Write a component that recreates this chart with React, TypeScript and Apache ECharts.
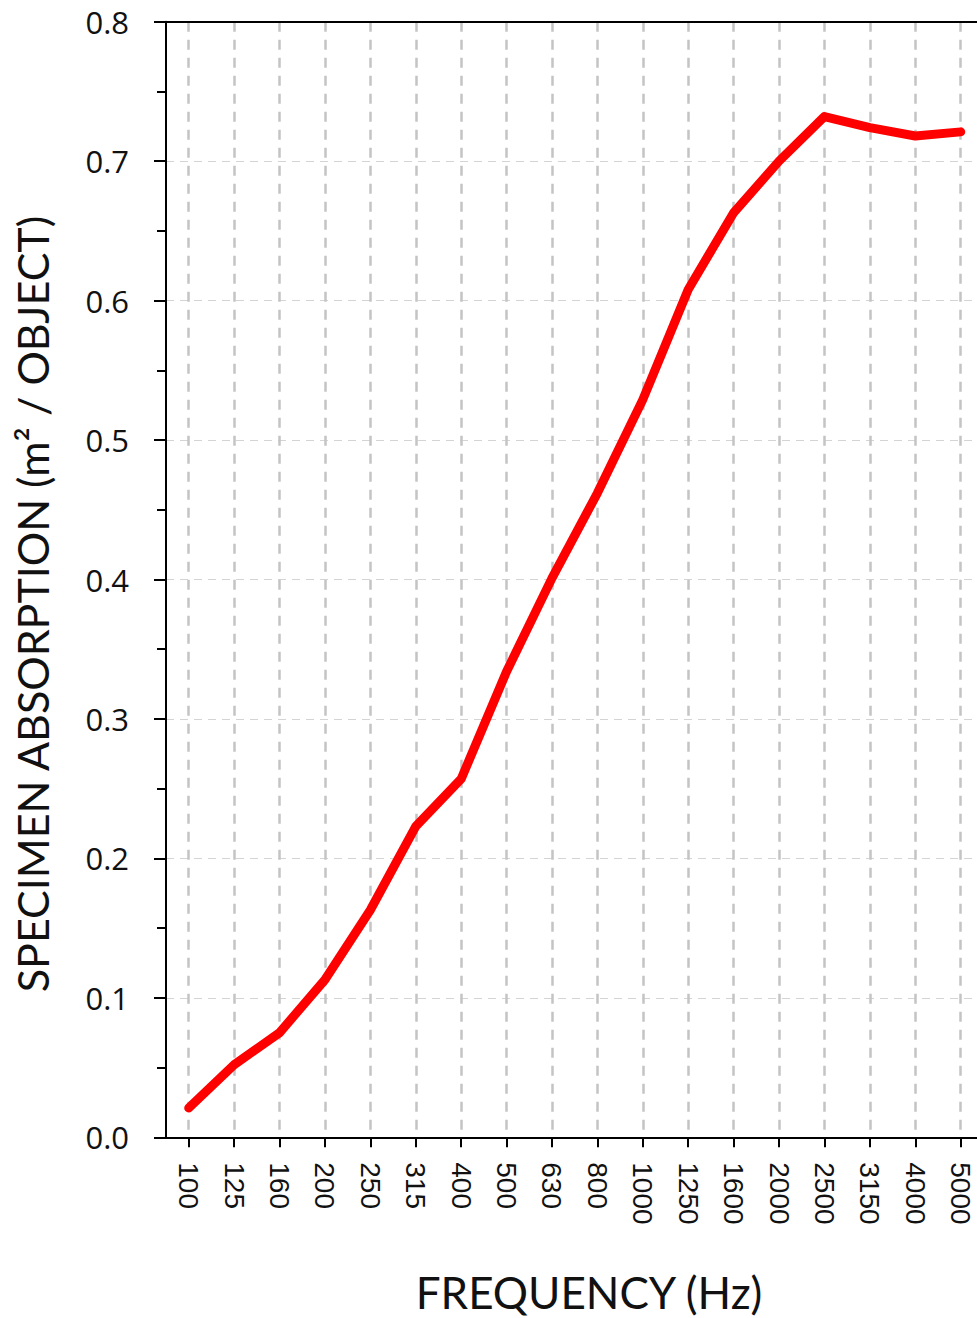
import React, { useEffect, useRef } from "react";
import * as echarts from "echarts";

const frequencies = [
  "100", "125", "160", "200", "250", "315", "400", "500", "630",
  "800", "1000", "1250", "1600", "2000", "2500", "3150", "4000", "5000",
];
const absorption = [
  0.021, 0.052, 0.075, 0.113, 0.163, 0.223, 0.257, 0.334, 0.401,
  0.462, 0.529, 0.608, 0.663, 0.7, 0.732, 0.724, 0.718, 0.721,
];
const yTitle = "SPECIMEN ABSORPTION (m² / OBJECT)";
const xTitle = "FREQUENCY (Hz)";

const CHART_W = 1000;

export default function App() {
  const ref = useRef<HTMLDivElement>(null);
  useEffect(() => {
    if (!ref.current) return;
    const chart = echarts.init(ref.current, null, { renderer: "svg" });
    const labelFont = "'Open Sans', 'Noto Sans', sans-serif";
    const xLabelFont = "'Liberation Sans', Arial, sans-serif";
    const titleFont = "Lato, 'Open Sans', sans-serif";
    const gridLeft = 166;
    const gridWidth = 817.4;
    chart.setOption({
      animation: false,
      backgroundColor: "#ffffff",
      grid: {
        left: gridLeft,
        top: 21.7,
        right: CHART_W - gridLeft - gridWidth,
        bottom: 180.7,
        containLabel: false,
      },
      xAxis: [
        {
          type: "category",
          data: frequencies,
          boundaryGap: true,
          axisLine: { show: true, lineStyle: { color: "#000", width: 2 } },
          axisTick: { show: true, alignWithLabel: true, interval: 0, length: 10, lineStyle: { color: "#000", width: 2 } },
          axisLabel: {
            interval: 0,
            rotate: -90,
            margin: 25,
            color: "#111",
            fontFamily: xLabelFont,
            fontSize: 28,
            lineHeight: 24,
          },
          splitLine: {
            show: true,
            interval: 0,
            alignWithLabel: true,
            lineStyle: { color: "#c4c4c4", width: 2.5, type: [10, 8] },
          },
        },
        {
          type: "category",
          data: frequencies,
          position: "top",
          axisLine: { show: true, lineStyle: { color: "#000", width: 2 } },
          axisTick: { show: false },
          axisLabel: { show: false },
          splitLine: { show: false },
        },
      ],
      yAxis: {
        type: "value",
        min: 0,
        max: 0.8,
        interval: 0.1,
        axisLine: { show: true, lineStyle: { color: "#000", width: 2 } },
        axisTick: { show: true, length: 12, lineStyle: { color: "#000", width: 2 } },
        minorTick: { show: true, splitNumber: 2, length: 9, lineStyle: { color: "#000", width: 2 } },
        axisLabel: {
          margin: 37,
          color: "#111",
          fontFamily: labelFont,
          fontSize: 31,
          formatter: (v: number) => v.toFixed(1),
        },
        splitLine: {
          show: true,
          lineStyle: { color: "#d4d4d4", width: 1.2, type: [8, 6] },
        },
      },
      graphic: [
        {
          type: "text",
          x: 32,
          y: 604,
          rotation: Math.PI / 2,
          style: {
            text: yTitle,
            fill: "#111",
            font: `43px ${titleFont}`,
            textAlign: "center",
            textVerticalAlign: "middle",
          },
        },
        {
          type: "text",
          x: 589,
          y: 1292,
          style: {
            text: xTitle,
            fill: "#111",
            font: `44px ${titleFont}`,
            textAlign: "center",
            textVerticalAlign: "middle",
          },
        },
      ],
      series: [
        {
          type: "line",
          data: absorption,
          xAxisIndex: 0,
          showSymbol: false,
          symbol: "none",
          lineStyle: { color: "#ff0000", width: 9, cap: "round", join: "round" },
          z: 5,
        },
      ],
    });
    return () => chart.dispose();
  }, []);
  return (
    <div style={{ position: "absolute", left: 0, top: 0, width: 977, height: 1318, overflow: "hidden" }}>
      <div ref={ref} style={{ width: CHART_W, height: 1318 }} />
    </div>
  );
}
